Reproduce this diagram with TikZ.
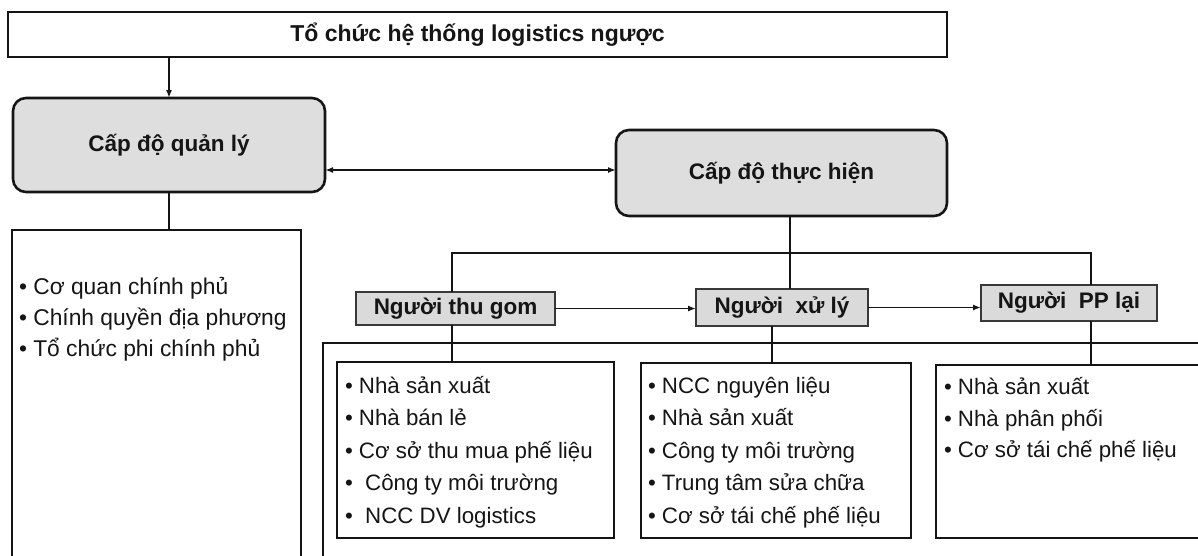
\documentclass[tikz,border=0pt]{standalone}
\usepackage{fontspec}
\setmainfont{Liberation Sans}
\usetikzlibrary{arrows.meta,calc}
\definecolor{ink}{HTML}{151515}
\definecolor{levelgray}{HTML}{DEDEDE}
\definecolor{actorgray}{HTML}{DADADA}

\begin{document}
\begin{tikzpicture}[x=1pt,y=-1pt,
  every node/.style={inner sep=0pt, outer sep=0pt, text=ink},
  titlebox/.style={draw=ink, line width=2.4pt, fill=white,
    font=\fontsize{23}{27}\selectfont\bfseries},
  levelbox/.style={draw=ink, line width=2.6pt, fill=levelgray,
    rounded corners=13pt, font=\fontsize{22.5}{27}\selectfont\bfseries},
  actorbox/.style={draw=ink!85, line width=1.3pt, fill=actorgray,
    font=\fontsize{22.5}{27}\selectfont\bfseries},
  listbox/.style={draw=ink, line width=1.6pt, fill=white},
  item/.style={anchor=base west, font=\fontsize{22.3}{26}\selectfont},
  govitem/.style={item, font=\fontsize{22.8}{27}\selectfont},
  link/.style={draw=ink, line width=1.8pt},
  arr/.style={link, -{Latex[length=8pt,width=6pt]}},
  dbl/.style={link, {Latex[length=8pt,width=6pt]}-{Latex[length=8pt,width=6pt]}},
]
\useasboundingbox (0,0) rectangle (1198,555);
\clip (0,0) rectangle (1198,555);

% outer frame around the actor groups
\node[draw=ink, line width=2.4pt, minimum width=897pt, minimum height=237pt]
  (frame) at (771.5,461.5) {};

% headline and the two levels
\node[titlebox, minimum width=939pt, minimum height=45pt] (top) at (477.5,34.5)
  {Tổ chức hệ thống logistics ngược};
\node[levelbox, minimum width=312pt, minimum height=94pt] (mgmt) at (169,145)
  {Cấp độ quản lý};
\node[levelbox, minimum width=331pt, minimum height=86pt] (exec) at (781.5,173)
  {Cấp độ thực hiện};

% management members
\node[listbox, line width=1.4pt, minimum width=289pt, minimum height=340pt]
  (gov) at (156.5,400) {};

% actors
\node[actorbox, minimum width=199pt, minimum height=33pt] (col) at (455.5,308.5)
  {Người thu gom};
\node[actorbox, minimum width=172pt, minimum height=37pt] (proc) at (782,307.5)
  {Người~ xử lý};
\node[actorbox, minimum width=176pt, minimum height=36pt] (dist) at (1069,303)
  {Người~ PP lại};

% member boxes of each actor
\node[listbox, minimum width=277pt, minimum height=176pt] (b1) at (475.5,450) {};
\node[listbox, minimum width=270pt, minimum height=175pt] (b2) at (776,450.5) {};
\node[listbox, minimum width=279pt, minimum height=173pt] (b3) at (1075.5,451.5) {};

% connectors
\coordinate (hub) at (790,253);
\coordinate (hl) at (452,253);
\coordinate (hr) at (1091,253);

\draw[arr] (mgmt.north |- top.south) -- (mgmt.north);
\draw[dbl] (mgmt.east |- 0,170) -- (exec.west |- 0,170);
\draw[link] (mgmt.south) -- (mgmt.south |- gov.north);

\draw[link] (exec.south -| hub) -- (hub |- proc.north);
\draw[link] (hl |- col.north) -- (hl) -- (hr) -- (hr |- dist.north);

\draw[arr] (col.east) -- (col.east -| proc.west);
\draw[arr] (proc.east) -- (proc.east -| dist.west);

\draw[link] (hl |- col.south) -- (hl |- b1.north);
\coordinate (pd) at (772,326);
\draw[link] (pd |- proc.south) -- (pd |- b2.north);
\draw[link] (hr |- dist.south) -- (hr |- b3.north);

% list entries
\foreach \t [count=\i] in {• Cơ quan chính phủ, • Chính quyền địa phương, • Tổ chức phi chính phủ}
  \node[govitem] (gov-\i) at (19,{294+(\i-1)*31}) {\t};

\foreach \t [count=\i] in {• Nhà sản xuất, • Nhà bán lẻ, • Cơ sở thu mua phế liệu,
    •~ Công ty môi trường, •~ NCC DV logistics}
  \node[item] (b1-\i) at (345,{393+(\i-1)*32.5}) {\t};

\foreach \t [count=\i] in {• NCC nguyên liệu, • Nhà sản xuất, • Công ty môi trường,
    • Trung tâm sửa chữa, • Cơ sở tái chế phế liệu}
  \node[item] (b2-\i) at (648,{393+(\i-1)*32.5}) {\t};

\foreach \t [count=\i] in {• Nhà sản xuất, • Nhà phân phối, • Cơ sở tái chế phế liệu}
  \node[item] (b3-\i) at (944,{394.5+(\i-1)*31.5}) {\t};
\end{tikzpicture}
\end{document}
